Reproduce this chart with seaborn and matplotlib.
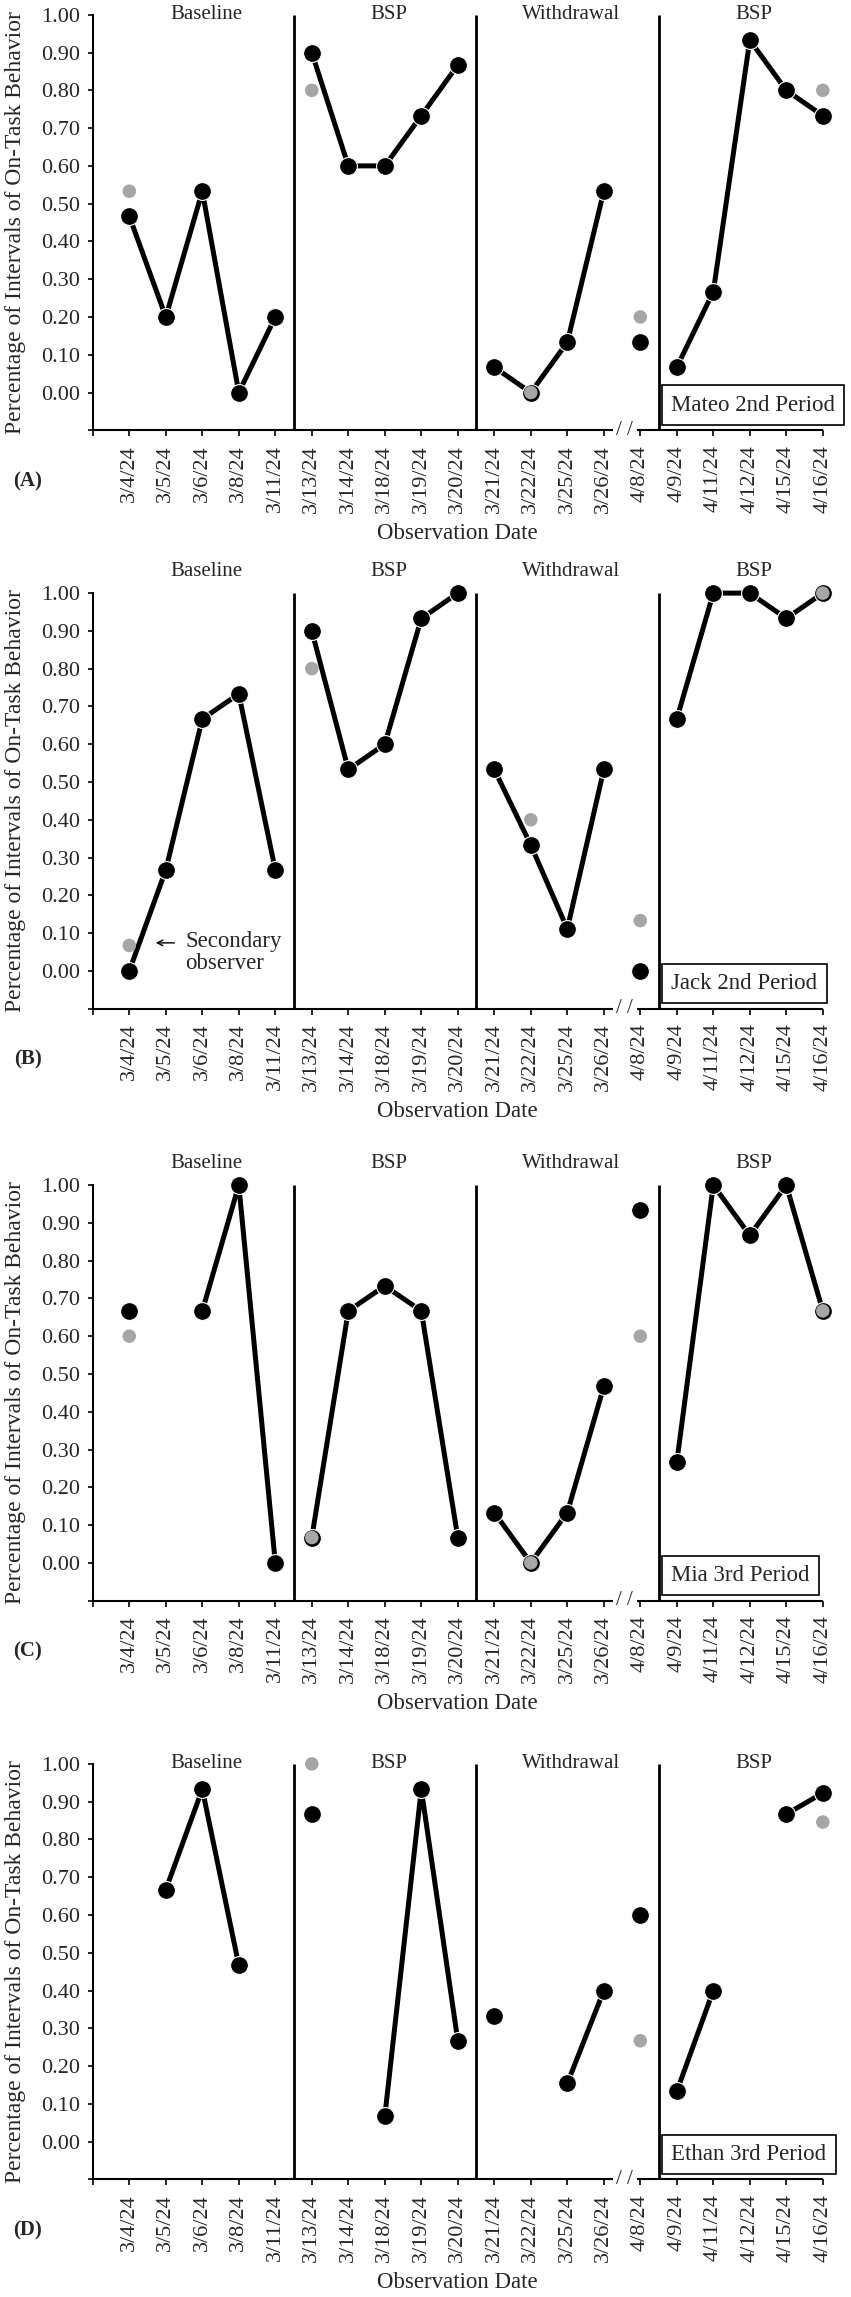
import matplotlib
matplotlib.use('Agg')
import matplotlib.pyplot as plt
import matplotlib.transforms as mtrans
import numpy as np
import pandas as pd
import seaborn as sns

nan = np.nan

# observation dates (categorical x axis)
dates = ['3/4/24', '3/5/24', '3/6/24', '3/8/24', '3/11/24',
         '3/13/24', '3/14/24', '3/18/24', '3/19/24', '3/20/24',
         '3/21/24', '3/22/24', '3/25/24', '3/26/24', '4/8/24',
         '4/9/24', '4/11/24', '4/12/24', '4/15/24', '4/16/24']
# phase of each date and connected segment (the 4/8 point sits after the axis break)
phase_of_date = [0] * 5 + [1] * 5 + [2] * 5 + [3] * 5
segment_of_date = [0] * 5 + [1] * 5 + [2] * 4 + [3] + [4] * 5
phase_names = ['Baseline', 'BSP', 'Withdrawal', 'BSP']

students = ['Mateo 2nd Period', 'Jack 2nd Period', 'Mia 3rd Period', 'Ethan 3rd Period']
panel_letters = ['(A)', '(B)', '(C)', '(D)']

mateo_primary = [0.467, 0.200, 0.533, 0.000, 0.200,
                 0.900, 0.600, 0.600, 0.733, 0.867,
                 0.067, 0.000, 0.133, 0.533, 0.133,
                 0.067, 0.267, 0.933, 0.800, 0.733]
mateo_secondary = [0.533, nan, nan, nan, nan,
                   0.800, nan, nan, nan, nan,
                   nan, 0.000, nan, nan, 0.200,
                   nan, nan, nan, nan, 0.800]

jack_primary = [0.000, 0.267, 0.667, 0.733, 0.267,
                0.900, 0.533, 0.600, 0.933, 1.000,
                0.533, 0.333, 0.111, 0.533, 0.000,
                0.667, 1.000, 1.000, 0.933, 1.000]
jack_secondary = [0.067, nan, nan, nan, nan,
                  0.800, nan, nan, nan, nan,
                  nan, 0.400, nan, nan, 0.133,
                  nan, nan, nan, nan, 1.000]

mia_primary = [0.667, nan, 0.667, 1.000, 0.000,
               0.067, 0.667, 0.733, 0.667, 0.067,
               0.133, 0.000, 0.133, 0.467, 0.933,
               0.267, 1.000, 0.867, 1.000, 0.667]
mia_secondary = [0.600, nan, nan, nan, nan,
                 0.067, nan, nan, nan, nan,
                 nan, 0.000, nan, nan, 0.600,
                 nan, nan, nan, nan, 0.667]

ethan_primary = [nan, 0.667, 0.933, 0.467, nan,
                 0.867, nan, 0.067, 0.933, 0.267,
                 0.333, nan, 0.154, 0.400, 0.600,
                 0.133, 0.400, nan, 0.867, 0.923]
ethan_secondary = [nan, nan, nan, nan, nan,
                   1.000, nan, nan, nan, nan,
                   nan, nan, nan, nan, 0.267,
                   nan, nan, nan, nan, 0.846]

primary = [mateo_primary, jack_primary, mia_primary, ethan_primary]
secondary = [mateo_secondary, jack_secondary, mia_secondary, ethan_secondary]

yticks = [-0.1, 0.0, 0.1, 0.2, 0.3, 0.4, 0.5, 0.6, 0.7, 0.8, 0.9, 1.0]
phase_label_y = [1.0, 1.057, 1.057, 1.0]

sns.set_style('ticks')
plt.rcParams['font.family'] = ['Liberation Serif', 'DejaVu Serif']

W, H = 851, 2297
fig = plt.figure(figsize=(W / 100, H / 100), dpi=100)

cat_px = 36.5
left_px = 92.8
ax_h_px = 415.5
bottoms_px = [430.3, 1008.6, 1600.6, 2179.4]
gray = '#a6a6a6'

pos = np.arange(len(dates))
phase_arr = np.array(phase_of_date)
seg_arr = np.array(segment_of_date)
phase_lines = [i + 0.5 for i in range(len(dates) - 1) if phase_arr[i] != phase_arr[i + 1]]
breaks = [i + 0.57 for i in range(len(dates) - 1)
          if seg_arr[i] != seg_arr[i + 1] and phase_arr[i] == phase_arr[i + 1]]

for k in range(4):
    ax = fig.add_axes([left_px / W, 1 - bottoms_px[k] / H,
                       20.7 * cat_px / W, ax_h_px / H])

    df = pd.DataFrame({'pos': pos, 'primary': primary[k],
                       'secondary': secondary[k], 'segment': seg_arr})
    miss = df['primary'].isna()
    new_run = (df['segment'].diff().fillna(1) != 0) | miss | miss.shift(fill_value=False)
    df['run'] = new_run.cumsum()
    lines = df.dropna(subset=['primary'])

    sns.lineplot(data=lines, x='pos', y='primary', units='run', estimator=None,
                 color='black', linewidth=3.6, legend=False, ax=ax,
                 clip_on=False, zorder=2)
    sns.scatterplot(data=df, x='pos', y='primary', s=165, color='black',
                    edgecolor='white', linewidth=0.8, legend=False, ax=ax,
                    clip_on=False, zorder=3)
    sns.scatterplot(data=df, x='pos', y='secondary', s=95, color=gray,
                    edgecolor='none', linewidth=0, legend=False, ax=ax,
                    clip_on=False, zorder=4)

    ax.set_xlim(-1, 19.7)
    ax.set_ylim(-0.1, 1.0)
    ax.set_xticks(range(-1, len(dates)), [''] + dates, rotation=90, fontsize=16)
    ax.set_yticks(yticks, [''] + ['%.2f' % v for v in yticks[1:]], fontsize=16)
    ax.tick_params(axis='x', direction='out', length=4.5, width=1.2, pad=6, color='black')
    ax.tick_params(axis='y', direction='out', length=3.4, width=1.2, pad=6, color='black')
    ax.set_xlabel('')
    ax.set_ylabel('')
    for s in ['top', 'right', 'bottom']:
        ax.spines[s].set_visible(False)
    ax.spines['left'].set_linewidth(1.5)
    ax.spines['left'].set_color('black')

    # broken x axis
    for b in breaks:
        ax.hlines([-0.1, -0.1], [-1, b + 0.33], [b - 0.33, len(dates) - 1],
                  color='black', linewidth=1.5, clip_on=False)
        ax.text(b, -0.1, '/ /', ha='center', va='center', fontsize=15)

    ax.vlines(phase_lines, -0.1, 1.0, color='black', linewidth=2, clip_on=False)

    for p, name in enumerate(phase_names):
        xc = pos[phase_arr == p].mean() + 0.1
        ax.text(xc, phase_label_y[k], name, ha='center', va='center', fontsize=15)

    ax.text(14.85, -0.061, students[k], ha='left', va='bottom', fontsize=16.5,
            bbox=dict(boxstyle='square,pad=0.4', fc='white', ec='black', lw=1.2))

    ax.text(-0.1017, 0.5, 'Percentage of Intervals of On-Task Behavior',
            transform=ax.transAxes, rotation=90, ha='center', va='center', fontsize=17)
    ax.text(-0.0858, -0.123, panel_letters[k], transform=ax.transAxes,
            ha='center', va='center', fontsize=15, fontweight='bold')
    blend = mtrans.blended_transform_factory(ax.transData, ax.transAxes)
    ax.text((len(dates) - 2) / 2, -0.248, 'Observation Date', transform=blend,
            ha='center', va='center', fontsize=16.5)

    if k == 1:
        ax.annotate('', xy=(0.65, 0.074), xytext=(1.31, 0.074),
                    arrowprops=dict(arrowstyle='->', color='black', lw=1.0))
        ax.text(1.53, 0.049, 'Secondary\nobserver', ha='left', va='center',
                fontsize=16.5, linespacing=1.1)

fig.savefig('out.png', dpi=100)
